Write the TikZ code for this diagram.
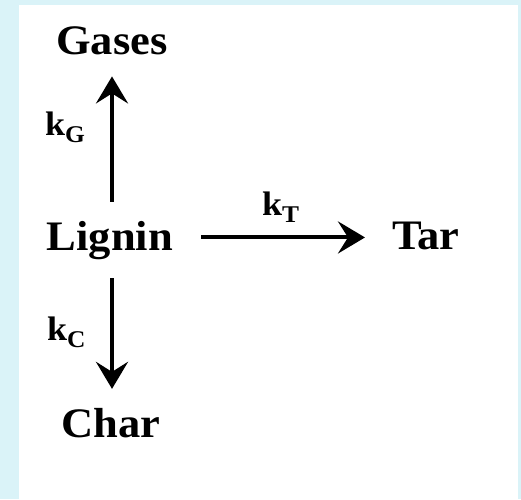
\documentclass[tikz,border=0pt]{standalone}
\usepackage{fontspec}
\newfontfamily\rxnfont{Liberation Serif}[FakeStretch=1.06]
\usetikzlibrary{arrows.meta}
\definecolor{panelblue}{RGB}{218,243,248}
\newcommand{\kconst}[1]{k\raisebox{-7pt}{\fontsize{24}{24}\selectfont #1}}

\begin{document}
\begin{tikzpicture}[x=1pt,y=1pt,>={Stealth[length=27pt,width=32pt,inset=10pt]},
    species/.style={font=\rxnfont\bfseries\fontsize{42}{48}\selectfont,
      inner sep=0pt,outer xsep=28pt,outer ysep=19pt,anchor=base},
    ratelbl/.style={font=\rxnfont\bfseries\fontsize{34}{40}\selectfont,
      inner sep=0pt,anchor=base west},
    rxn/.style={->,line width=4pt}]
  % panel
  \fill[panelblue] (0,0) rectangle (521,499);
  \fill[white] (19,0) rectangle (518,494);
  % species
  \node[species] (gases)  at (112,444) {Gases};
  \node[species] (lignin) at (110,249) {Lignin};
  \node[species,anchor=base west,outer xsep=27pt] (tar) at (365,250) {Tar};
  \node[species] (char)   at (111,62)  {Char};
  % rate constants
  \node[ratelbl] (kg) at (45,364) {\kconst{G}};
  \node[ratelbl] (kt) at (262,284) {\kconst{T}};
  \node[ratelbl] (kc) at (47,159) {\kconst{C}};
  % reactions
  \draw[rxn] (lignin.north -| gases.south) -- ([yshift=-2pt]gases.south);
  \draw[rxn] ([yshift=-2pt]lignin.east |- tar.west) -- ([yshift=-2pt]tar.west);
  \draw[rxn] (lignin.south -| gases.south) -- (char.north -| gases.south);
\end{tikzpicture}
\end{document}
